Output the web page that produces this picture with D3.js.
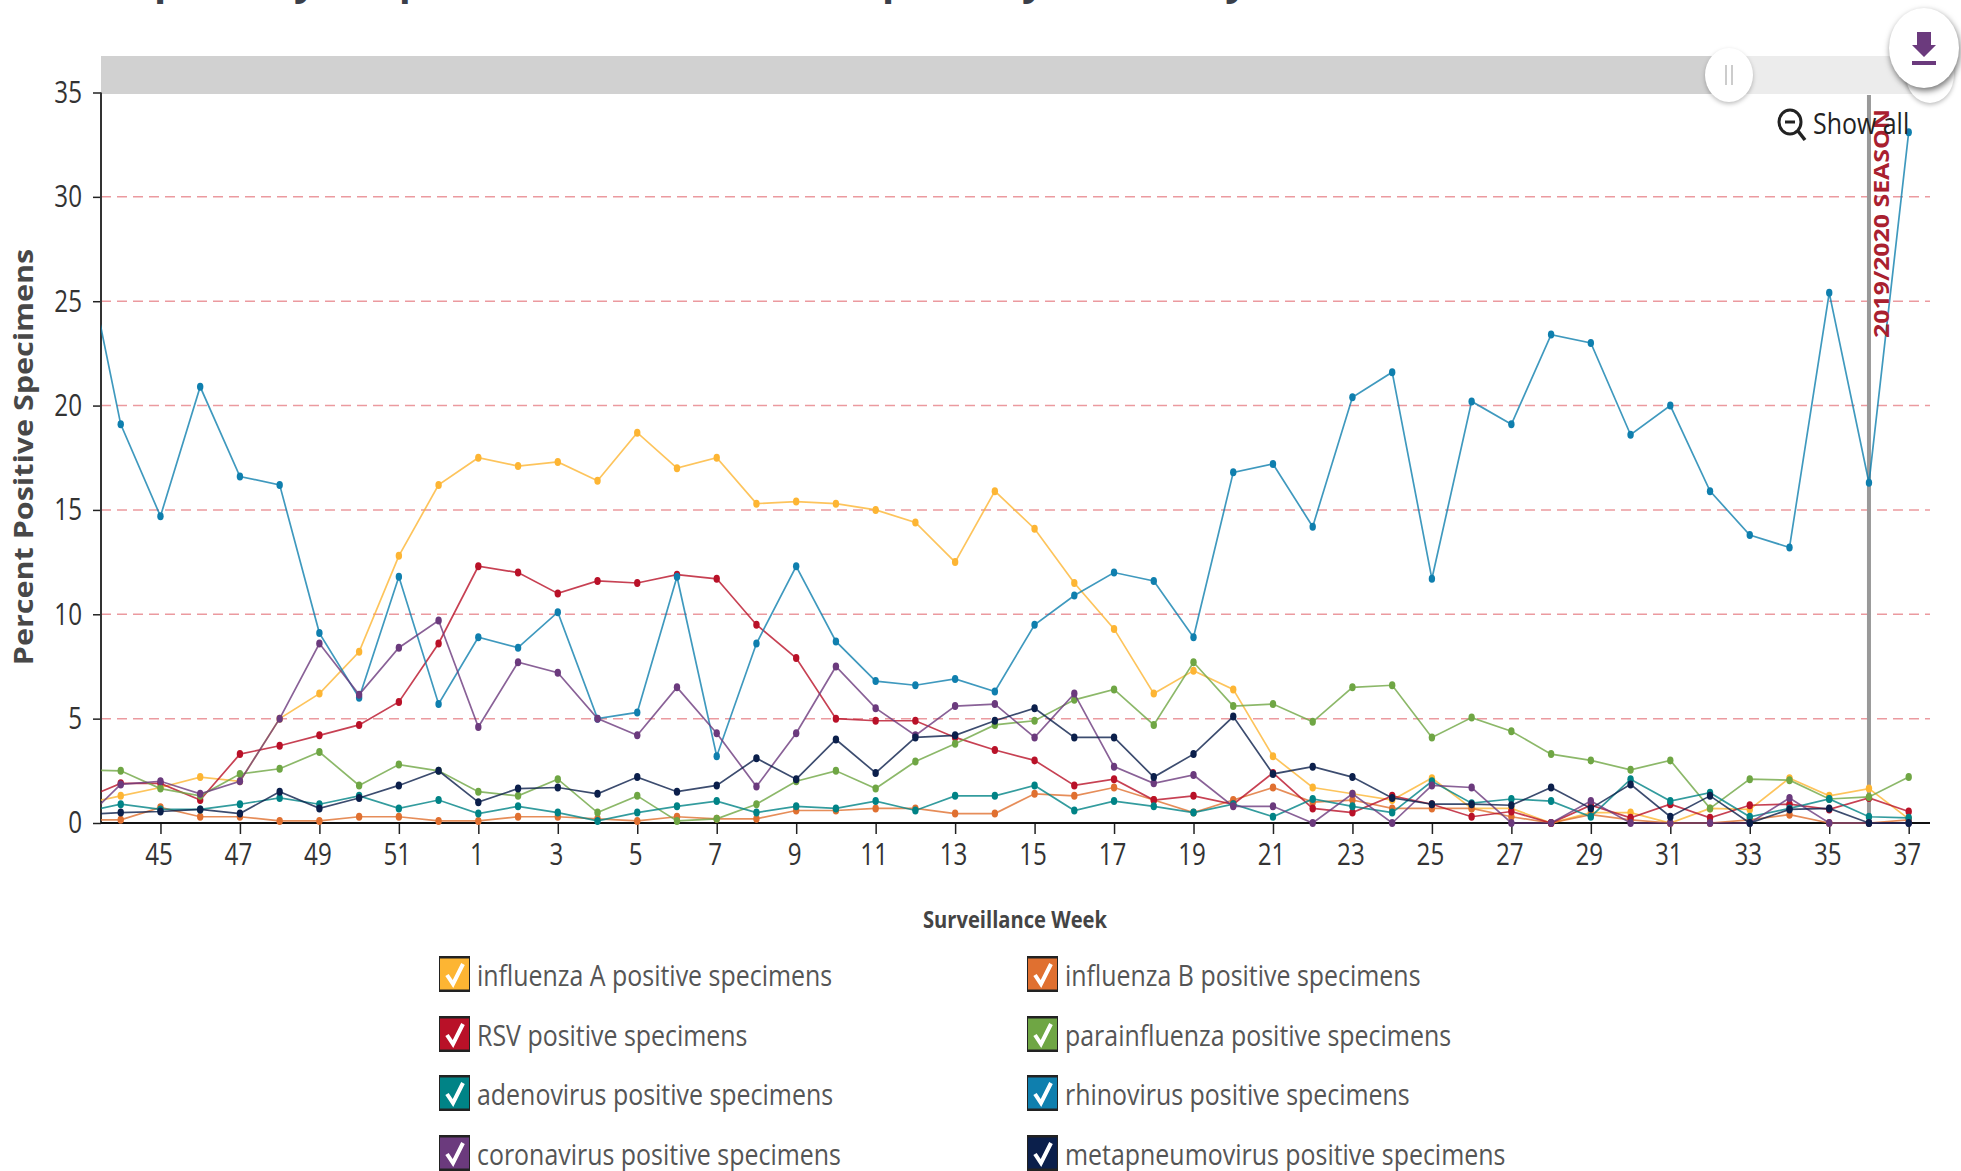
<!DOCTYPE html>
<html>
<head>
<meta charset="utf-8">
<script src="https://cdn.jsdelivr.net/npm/d3@7"></script>
<style>
  body { margin: 0; background: white; }
  svg { display: block; font-family: "Open Sans", sans-serif; }
</style>
</head>
<body>
<div id="container"></div>
<script>
// surveillance weeks, 43 sits left of the visible window and gets clipped
let weeks = ["43","44","45","46","47","48","49","50","51","52",
  "1","2","3","4","5","6","7","8","9","10","11","12","13","14","15","16","17","18","19","20",
  "21","22","23","24","25","26","27","28","29","30","31","32","33","34","35","36","37"];
let weekTicks = ["45","47","49","51","1","3","5","7","9","11","13","15","17","19","21","23","25","27","29","31","33","35","37"];
let percentTicks = [0, 5, 10, 15, 20, 25, 30, 35];
let gridTicks = [5, 10, 15, 20, 25, 30];

let fluA = [0.9,1.3,1.7,2.2,2.0,5.0,6.2,8.2,12.8,16.2,
  17.5,17.1,17.3,16.4,18.7,17.0,17.5,15.3,15.4,15.3,15.0,14.4,12.5,15.9,14.1,11.5,9.3,6.2,7.3,6.4,
  3.2,1.7,1.4,1.1,2.15,0.7,0.7,0,0.5,0.5,0,0.7,0.65,2.15,1.3,1.65,0.2];
let fluB = [0.15,0.15,0.75,0.3,0.3,0.1,0.1,0.3,0.3,0.1,
  0.1,0.3,0.3,0.2,0.1,0.3,0.2,0.2,0.6,0.6,0.7,0.7,0.45,0.45,1.4,1.3,1.7,1.1,0.5,1.1,
  1.7,1.0,1.1,0.7,0.7,0.7,0.3,0,0.4,0.15,0,0,0.15,0.4,0,0,0.15];
let rsv = [1.1,1.9,1.9,1.1,3.3,3.7,4.2,4.7,5.8,8.6,
  12.3,12.0,11.0,11.6,11.5,11.9,11.7,9.5,7.9,5.0,4.9,4.9,4.1,3.5,3.0,1.8,2.1,1.1,1.3,0.9,
  2.4,0.7,0.5,1.3,0.9,0.3,0.55,0,0.85,0.25,0.9,0.25,0.85,0.9,0.65,1.2,0.55];
let parainfluenza = [2.55,2.5,1.65,1.3,2.35,2.6,3.4,1.8,2.8,2.5,
  1.5,1.3,2.1,0.5,1.3,0.1,0.2,0.9,2.0,2.5,1.65,2.95,3.8,4.7,4.9,5.9,6.4,4.7,7.7,5.6,
  5.7,4.85,6.5,6.6,4.1,5.05,4.4,3.3,3.0,2.55,3.0,0.7,2.1,2.05,1.15,1.25,2.2];
let adenovirus = [0.5,0.9,0.65,0.65,0.9,1.2,0.9,1.3,0.7,1.1,
  0.45,0.8,0.5,0.1,0.5,0.8,1.05,0.5,0.8,0.7,1.05,0.6,1.3,1.3,1.8,0.6,1.05,0.8,0.5,0.9,
  0.3,1.15,0.8,0.5,2.0,0.95,1.15,1.05,0.3,2.1,1.05,1.45,0.3,0.7,1.15,0.3,0.25];
let rhinovirus = [28.4,19.1,14.7,20.9,16.6,16.2,9.1,6.0,11.8,5.7,
  8.9,8.4,10.1,5.0,5.3,11.8,3.2,8.6,12.3,8.7,6.8,6.6,6.9,6.3,9.5,10.9,12.0,11.6,8.9,16.8,
  17.2,14.2,20.4,21.6,11.7,20.2,19.1,23.4,23.0,18.6,20.0,15.9,13.8,13.2,25.4,16.3,33.1];
let coronavirus = [0,1.85,2.0,1.4,2.0,5.0,8.6,6.15,8.4,9.7,
  4.6,7.7,7.2,5.0,4.2,6.5,4.3,1.75,4.3,7.5,5.5,4.2,5.6,5.7,4.1,6.2,2.7,1.9,2.3,0.8,
  0.8,0,1.4,0,1.8,1.7,0,0,1.05,0,0,0,0,1.2,0,0,0];
let metapneumovirus = [0.4,0.5,0.55,0.65,0.45,1.5,0.7,1.2,1.8,2.5,
  1.0,1.65,1.7,1.4,2.2,1.5,1.8,3.1,2.1,4.0,2.4,4.1,4.2,4.9,5.5,4.1,4.1,2.2,3.3,5.1,
  2.35,2.7,2.2,1.2,0.9,0.9,0.85,1.7,0.7,1.85,0.3,1.3,0,0.65,0.7,0,0];

let seriesNames = ["influenza A","influenza B","RSV","parainfluenza","adenovirus","rhinovirus","coronavirus","metapneumovirus"];
let seriesValues = [fluA, fluB, rsv, parainfluenza, adenovirus, rhinovirus, coronavirus, metapneumovirus];
let seriesColors = ["#fdb533","#e07030","#b91128","#6fa644","#008386","#0f7fae","#6b3a7d","#0b1f4b"];

// title is cropped in the reference, only the descenders show
let titleWords = ["Respiratory", "Specimens Positive for", "Respiratory", "by Surveillance Week"];
let titleX = [84, 378, 812, 1200];
let titleLength = [null, 430, null, null];

let w = 1961;
let h = 1171;
let xLeft = 101;
let xRight = 1930;
let squeeze = 0.78; // the screenshot is stretched vertically, text comes out narrow
let squeezeWide = 0.86;

let viz = d3.select("#container")
  .append("svg")
    .attr("width", w)
    .attr("height", h)
;

let xScale = d3.scalePoint().domain(weeks).range([81, 1908.7]);
let yScale = d3.scaleLinear().domain([0, 35]).range([823, 92.5]);

function squeezed(x, y, s){
  return "translate(" + x + "," + y + ") scale(" + s + ",1)";
}

viz.append("g").selectAll("text").data(titleWords).enter().append("text")
    .text(function(d){ return d })
    .attr("x", function(d, i){ return titleX[i] })
    .attr("y", -5)
    .attr("textLength", function(d, i){ return titleLength[i] })
    .attr("lengthAdjust", "spacingAndGlyphs")
    .attr("font-size", 40)
    .attr("font-weight", 700)
    .attr("fill", "#3a3f4a")
;

// brush bar
viz.append("rect")
    .attr("x", xLeft).attr("y", 56).attr("width", 1815).attr("height", 38)
    .attr("fill", "#ececec")
;
viz.append("rect")
    .attr("x", xLeft).attr("y", 56).attr("width", 1628).attr("height", 38)
    .attr("fill", "#d1d1d1")
;

// grid
viz.append("g").selectAll("line").data(gridTicks).enter().append("line")
    .attr("x1", xLeft)
    .attr("x2", xRight)
    .attr("y1", function(d){ return yScale(d) })
    .attr("y2", function(d){ return yScale(d) })
    .attr("stroke", "#eb9a9f")
    .attr("stroke-width", 1.5)
    .attr("stroke-dasharray", "10 6")
;

// axes
let xAxis = d3.axisBottom(xScale).tickValues(weekTicks).tickSize(11).tickPadding(9);
let xAxisGroup = viz.append("g")
    .attr("class", "xaxisgroup")
    .attr("transform", "translate(0," + yScale(0) + ")")
;
xAxisGroup.call(xAxis);
xAxisGroup.select(".domain").remove();
xAxisGroup.selectAll("line").attr("stroke", "#222").attr("stroke-width", 1.5);
xAxisGroup.selectAll("text")
    .attr("font-family", "Open Sans")
    .attr("font-size", 31)
    .attr("fill", "#333")
    .attr("transform", "translate(-2,0) scale(" + squeeze + ",1)")
;

let yAxis = d3.axisLeft(yScale).tickValues(percentTicks).tickSize(8).tickPadding(0);
let yAxisGroup = viz.append("g")
    .attr("class", "yaxisgroup")
    .attr("transform", "translate(" + xLeft + ",0)")
;
yAxisGroup.call(yAxis);
yAxisGroup.select(".domain").remove();
yAxisGroup.selectAll("line").attr("stroke", "#222").attr("stroke-width", 1.5);
yAxisGroup.selectAll("text")
    .attr("font-family", "Open Sans")
    .attr("font-size", 31)
    .attr("fill", "#333")
    .attr("x", 0)
    .attr("transform", "translate(-19,0) scale(" + squeeze + ",1)")
;

viz.append("line")
    .attr("x1", xLeft).attr("x2", xLeft)
    .attr("y1", yScale(35)).attr("y2", yScale(0))
    .attr("stroke", "#333").attr("stroke-width", 2)
;
viz.append("line")
    .attr("x1", xLeft).attr("x2", xRight)
    .attr("y1", yScale(0)).attr("y2", yScale(0))
    .attr("stroke", "#111").attr("stroke-width", 2)
;

// axis titles
viz.append("text")
    .text("Percent Positive Specimens")
    .attr("transform", "translate(33,457) rotate(-90) scale(1.13,1)")
    .attr("text-anchor", "middle")
    .attr("font-size", 27)
    .attr("font-weight", 700)
    .attr("fill", "#484848")
;
viz.append("text")
    .text("Surveillance Week")
    .attr("transform", squeezed(1015, 928, 0.84))
    .attr("text-anchor", "middle")
    .attr("font-size", 24)
    .attr("font-weight", 700)
    .attr("fill", "#444")
;

// season marker
viz.append("line")
    .attr("x1", xScale("36")).attr("x2", xScale("36"))
    .attr("y1", 95).attr("y2", yScale(0))
    .attr("stroke", "#999")
    .attr("stroke-width", 4)
;

// lines
viz.append("clipPath").attr("id", "plotclip")
  .append("rect")
    .attr("x", xLeft).attr("y", 90).attr("width", xRight - xLeft).attr("height", 745)
;

let lineMaker = d3.line()
    .x(function(d, i){ return xScale(weeks[i]) })
    .y(function(d){ return yScale(d) })
;

let plot = viz.append("g").attr("clip-path", "url(#plotclip)");

seriesValues.forEach(function(values, s){
  plot.append("path")
      .datum(values)
      .attr("d", lineMaker)
      .attr("fill", "none")
      .attr("stroke", seriesColors[s])
      .attr("stroke-opacity", 0.8)
      .attr("stroke-width", 1.7)
  ;
  plot.append("g").selectAll("ellipse").data(values).enter().append("ellipse")
      .attr("cx", function(d, i){ return xScale(weeks[i]) })
      .attr("cy", function(d){ return yScale(d) })
      .attr("rx", 3.2)
      .attr("ry", 4)
      .attr("fill", seriesColors[s])
  ;
});

viz.append("text")
    .text("2019/2020 SEASON")
    .attr("transform", "translate(1889,338) rotate(-90)")
    .attr("textLength", 229)
    .attr("lengthAdjust", "spacingAndGlyphs")
    .attr("font-size", 22)
    .attr("font-weight", 700)
    .attr("fill", "#a9202f")
;

// show all control
let showAll = viz.append("g").attr("transform", "translate(1790,122)");
showAll.append("ellipse")
    .attr("rx", 11).attr("ry", 12)
    .attr("fill", "none").attr("stroke", "#222").attr("stroke-width", 3)
;
showAll.append("line")
    .attr("x1", -5).attr("x2", 5).attr("y1", 0).attr("y2", 0)
    .attr("stroke", "#222").attr("stroke-width", 3)
;
showAll.append("line")
    .attr("x1", 8).attr("x2", 15).attr("y1", 9).attr("y2", 18)
    .attr("stroke", "#222").attr("stroke-width", 3.5)
;
viz.append("text")
    .text("Show all")
    .attr("transform", squeezed(1813, 134, squeezeWide))
    .attr("font-size", 29)
    .attr("fill", "#222")
;

// brush handle
let shadow = "drop-shadow(0px 2px 2px rgba(0,0,0,0.25))";
let handle = viz.append("g").attr("transform", "translate(1729,75)");
handle.append("ellipse")
    .attr("rx", 24).attr("ry", 27)
    .attr("fill", "white")
    .style("filter", shadow)
;
handle.selectAll("line").data([-3, 3]).enter().append("line")
    .attr("x1", function(d){ return d }).attr("x2", function(d){ return d })
    .attr("y1", -10).attr("y2", 10)
    .attr("stroke", "#bbb").attr("stroke-width", 1.5)
;

// second handle, mostly under the download button
viz.append("ellipse")
    .attr("cx", 1930).attr("cy", 75).attr("rx", 24).attr("ry", 28)
    .attr("fill", "white")
    .style("filter", shadow)
;

// download button
let download = viz.append("g").attr("transform", "translate(1924,48)");
download.append("ellipse")
    .attr("rx", 35).attr("ry", 40)
    .attr("fill", "white")
    .style("filter", "drop-shadow(1px 3px 3px rgba(0,0,0,0.55))")
;
download.append("path")
    .attr("d", "M-7,-16 H7 V-3 H12 L0,9 L-12,-3 H-7 Z")
    .attr("fill", "#6b3a7d")
;
download.append("rect")
    .attr("x", -12).attr("y", 13).attr("width", 24).attr("height", 4)
    .attr("fill", "#6b3a7d")
;

// legend, two columns row by row
let legendX = [439, 1027];
let legendY = [974, 1034, 1093, 1153];
let legend = viz.append("g").selectAll("g").data(seriesNames).enter().append("g")
    .attr("transform", function(d, i){
      return "translate(" + legendX[i % 2] + "," + legendY[Math.floor(i / 2)] + ")";
    })
;
legend.append("rect")
    .attr("x", 0).attr("y", -18).attr("width", 31).attr("height", 36)
    .attr("fill", "#222")
;
legend.append("rect")
    .attr("x", 1).attr("y", -15.5).attr("width", 29).attr("height", 31)
    .attr("fill", function(d, i){ return seriesColors[i] })
;
legend.append("path")
    .attr("d", "M8,1 L14,10 L24,-10")
    .attr("fill", "none")
    .attr("stroke", "white")
    .attr("stroke-width", 4)
;
legend.append("text")
    .text(function(d){ return d + " positive specimens" })
    .attr("transform", squeezed(38, 12, squeezeWide))
    .attr("font-size", 29)
    .attr("fill", "#555")
;
</script>
</body>
</html>
